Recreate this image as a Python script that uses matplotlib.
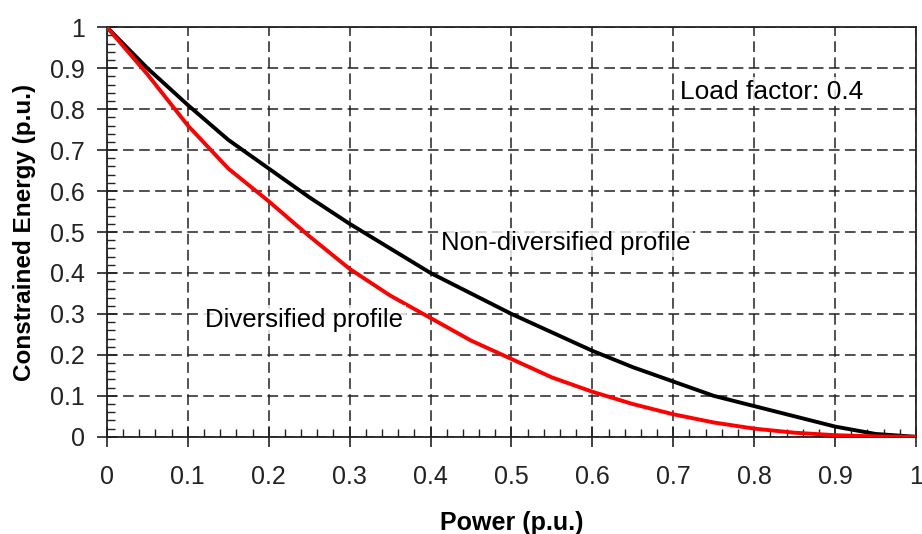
import matplotlib
matplotlib.use('Agg')
import matplotlib.pyplot as plt
from matplotlib.ticker import MultipleLocator, FuncFormatter

power = [0, 0.05, 0.1, 0.15, 0.2, 0.25, 0.3, 0.35, 0.4, 0.45, 0.5,
         0.55, 0.6, 0.65, 0.7, 0.75, 0.8, 0.85, 0.9, 0.95, 1.0]
non_diversified = [1.0, 0.90, 0.81, 0.725, 0.655, 0.585, 0.52, 0.46, 0.40, 0.35, 0.30,
                   0.255, 0.21, 0.17, 0.135, 0.10, 0.075, 0.05, 0.025, 0.007, 0.0]
diversified = [1.0, 0.885, 0.76, 0.655, 0.575, 0.49, 0.41, 0.345, 0.29, 0.235, 0.19,
               0.145, 0.11, 0.08, 0.055, 0.035, 0.02, 0.01, 0.004, 0.001, 0.0]

plt.rcParams['font.family'] = ['Liberation Sans', 'DejaVu Sans']

fig = plt.figure(figsize=(9.22, 5.34), dpi=100)
ax = fig.add_axes([0.116, 0.182, 0.8775, 0.767])

ax.plot(power, non_diversified, color='black', lw=2.8, zorder=3)
ax.plot(power, diversified, color='red', lw=2.8, zorder=3)

ax.set_xlim(0, 1)
ax.set_ylim(0, 1)
ax.xaxis.set_major_locator(MultipleLocator(0.1))
ax.yaxis.set_major_locator(MultipleLocator(0.1))
ax.xaxis.set_minor_locator(MultipleLocator(0.02))
ax.yaxis.set_minor_locator(MultipleLocator(0.02))

fmt = lambda v, pos: ('%g' % round(v, 2))
ax.xaxis.set_major_formatter(FuncFormatter(fmt))
ax.yaxis.set_major_formatter(FuncFormatter(fmt))

ax.tick_params(which='major', direction='inout', length=14, width=1.2, labelsize=18, colors='#222222')
ax.tick_params(axis='x', which='major', pad=13)
ax.tick_params(axis='y', which='major', pad=9)
ax.tick_params(which='minor', direction='in', length=6, width=1.0, colors='#222222')

ax.grid(True, which='major', color='#222222', linestyle=(0, (7, 3.5)), lw=1.1)
for s in ax.spines.values():
    s.set_linewidth(1.3)
    s.set_color('#222222')

ax.set_xlabel('Power (p.u.)', fontsize=18, fontweight='bold', labelpad=16)
ax.set_ylabel('Constrained Energy (p.u.)', fontsize=17.5, fontweight='bold', labelpad=10)

box = dict(facecolor='white', edgecolor='none', alpha=0.8, pad=2)
ax.text(0.708, 0.843, 'Load factor: 0.4', fontsize=19, va='center', bbox=box, zorder=4)
ax.text(0.413, 0.474, 'Non-diversified profile', fontsize=18.5, va='center', bbox=box, zorder=4)
ax.text(0.121, 0.286, 'Diversified profile', fontsize=18.5, va='center', bbox=box, zorder=4)

fig.savefig('out.png', dpi=100)
